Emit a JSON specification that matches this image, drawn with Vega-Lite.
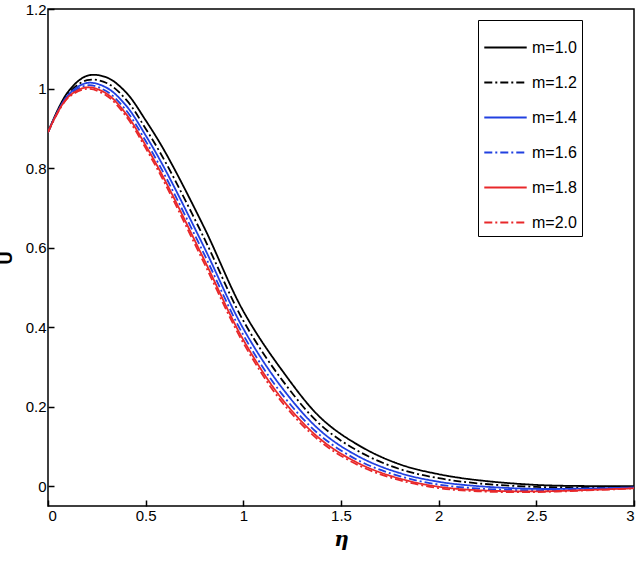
{
  "$schema": "https://vega.github.io/schema/vega-lite/v6.json",
  "autosize": {"type": "none"},
  "padding": {"left": 48, "top": 9, "right": 6, "bottom": 60},
  "width": 586,
  "height": 497,
  "background": "white",
  "config": {
    "view": {"stroke": "black", "strokeWidth": 1.5},
    "font": "Liberation Sans",
    "axis": {
      "grid": false,
      "domain": false,
      "tickSize": -6,
      "tickColor": "black",
      "tickWidth": 1.5,
      "labelFontSize": 15,
      "labelColor": "black",
      "labelFont": "Liberation Sans",
      "titleColor": "black",
      "format": "~g"
    }
  },
  "data": {
    "values": [
      {"eta":0,"U":0.89,"m":"m=1.0"},{"eta":0.1,"U":0.99,"m":"m=1.0"},{"eta":0.2,"U":1.032,"m":"m=1.0"},{"eta":0.3,"U":1.028,"m":"m=1.0"},{"eta":0.4,"U":0.99,"m":"m=1.0"},{"eta":0.5,"U":0.92,"m":"m=1.0"},{"eta":0.6,"U":0.84,"m":"m=1.0"},{"eta":0.8,"U":0.65,"m":"m=1.0"},{"eta":1.0,"U":0.44,"m":"m=1.0"},{"eta":1.2,"U":0.29,"m":"m=1.0"},{"eta":1.4,"U":0.17,"m":"m=1.0"},{"eta":1.6,"U":0.1,"m":"m=1.0"},{"eta":1.8,"U":0.055,"m":"m=1.0"},{"eta":2.0,"U":0.03,"m":"m=1.0"},{"eta":2.2,"U":0.015,"m":"m=1.0"},{"eta":2.5,"U":0.003,"m":"m=1.0"},{"eta":2.8,"U":0.0,"m":"m=1.0"},{"eta":3.0,"U":0.0,"m":"m=1.0"},
      {"eta":0,"U":0.89,"m":"m=1.2"},{"eta":0.1,"U":0.985,"m":"m=1.2"},{"eta":0.2,"U":1.021,"m":"m=1.2"},{"eta":0.3,"U":1.014,"m":"m=1.2"},{"eta":0.4,"U":0.972,"m":"m=1.2"},{"eta":0.5,"U":0.899,"m":"m=1.2"},{"eta":0.6,"U":0.816,"m":"m=1.2"},{"eta":0.8,"U":0.623,"m":"m=1.2"},{"eta":1.0,"U":0.416,"m":"m=1.2"},{"eta":1.2,"U":0.266,"m":"m=1.2"},{"eta":1.4,"U":0.152,"m":"m=1.2"},{"eta":1.6,"U":0.085,"m":"m=1.2"},{"eta":1.8,"U":0.043,"m":"m=1.2"},{"eta":2.0,"U":0.02,"m":"m=1.2"},{"eta":2.2,"U":0.007,"m":"m=1.2"},{"eta":2.5,"U":-0.002,"m":"m=1.2"},{"eta":2.8,"U":-0.003,"m":"m=1.2"},{"eta":3.0,"U":-0.002,"m":"m=1.2"},
      {"eta":0,"U":0.89,"m":"m=1.4"},{"eta":0.1,"U":0.982,"m":"m=1.4"},{"eta":0.2,"U":1.014,"m":"m=1.4"},{"eta":0.3,"U":1.002,"m":"m=1.4"},{"eta":0.4,"U":0.957,"m":"m=1.4"},{"eta":0.5,"U":0.882,"m":"m=1.4"},{"eta":0.6,"U":0.796,"m":"m=1.4"},{"eta":0.8,"U":0.6,"m":"m=1.4"},{"eta":1.0,"U":0.396,"m":"m=1.4"},{"eta":1.2,"U":0.246,"m":"m=1.4"},{"eta":1.4,"U":0.137,"m":"m=1.4"},{"eta":1.6,"U":0.072,"m":"m=1.4"},{"eta":1.8,"U":0.033,"m":"m=1.4"},{"eta":2.0,"U":0.011,"m":"m=1.4"},{"eta":2.2,"U":0.0,"m":"m=1.4"},{"eta":2.5,"U":-0.007,"m":"m=1.4"},{"eta":2.8,"U":-0.0055,"m":"m=1.4"},{"eta":3.0,"U":-0.0033,"m":"m=1.4"},
      {"eta":0,"U":0.89,"m":"m=1.6"},{"eta":0.1,"U":0.979,"m":"m=1.6"},{"eta":0.2,"U":1.008,"m":"m=1.6"},{"eta":0.3,"U":0.993,"m":"m=1.6"},{"eta":0.4,"U":0.945,"m":"m=1.6"},{"eta":0.5,"U":0.868,"m":"m=1.6"},{"eta":0.6,"U":0.78,"m":"m=1.6"},{"eta":0.8,"U":0.583,"m":"m=1.6"},{"eta":1.0,"U":0.38,"m":"m=1.6"},{"eta":1.2,"U":0.23,"m":"m=1.6"},{"eta":1.4,"U":0.125,"m":"m=1.6"},{"eta":1.6,"U":0.062,"m":"m=1.6"},{"eta":1.8,"U":0.025,"m":"m=1.6"},{"eta":2.0,"U":0.004,"m":"m=1.6"},{"eta":2.2,"U":-0.006,"m":"m=1.6"},{"eta":2.5,"U":-0.0105,"m":"m=1.6"},{"eta":2.8,"U":-0.0075,"m":"m=1.6"},{"eta":3.0,"U":-0.0045,"m":"m=1.6"},
      {"eta":0,"U":0.89,"m":"m=1.8"},{"eta":0.1,"U":0.977,"m":"m=1.8"},{"eta":0.2,"U":1.003,"m":"m=1.8"},{"eta":0.3,"U":0.987,"m":"m=1.8"},{"eta":0.4,"U":0.936,"m":"m=1.8"},{"eta":0.5,"U":0.857,"m":"m=1.8"},{"eta":0.6,"U":0.768,"m":"m=1.8"},{"eta":0.8,"U":0.569,"m":"m=1.8"},{"eta":1.0,"U":0.368,"m":"m=1.8"},{"eta":1.2,"U":0.218,"m":"m=1.8"},{"eta":1.4,"U":0.116,"m":"m=1.8"},{"eta":1.6,"U":0.055,"m":"m=1.8"},{"eta":1.8,"U":0.019,"m":"m=1.8"},{"eta":2.0,"U":-0.0015,"m":"m=1.8"},{"eta":2.2,"U":-0.0102,"m":"m=1.8"},{"eta":2.5,"U":-0.0132,"m":"m=1.8"},{"eta":2.8,"U":-0.009,"m":"m=1.8"},{"eta":3.0,"U":-0.0054,"m":"m=1.8"},
      {"eta":0,"U":0.89,"m":"m=2.0"},{"eta":0.1,"U":0.975,"m":"m=2.0"},{"eta":0.2,"U":0.999,"m":"m=2.0"},{"eta":0.3,"U":0.982,"m":"m=2.0"},{"eta":0.4,"U":0.93,"m":"m=2.0"},{"eta":0.5,"U":0.85,"m":"m=2.0"},{"eta":0.6,"U":0.76,"m":"m=2.0"},{"eta":0.8,"U":0.56,"m":"m=2.0"},{"eta":1.0,"U":0.36,"m":"m=2.0"},{"eta":1.2,"U":0.21,"m":"m=2.0"},{"eta":1.4,"U":0.11,"m":"m=2.0"},{"eta":1.6,"U":0.05,"m":"m=2.0"},{"eta":1.8,"U":0.015,"m":"m=2.0"},{"eta":2.0,"U":-0.005,"m":"m=2.0"},{"eta":2.2,"U":-0.013,"m":"m=2.0"},{"eta":2.5,"U":-0.015,"m":"m=2.0"},{"eta":2.8,"U":-0.01,"m":"m=2.0"},{"eta":3.0,"U":-0.006,"m":"m=2.0"}
    ]
  },
  "mark": {"type": "line", "interpolate": "catmull-rom", "strokeWidth": 1.8, "clip": true},
  "encoding": {
    "x": {
      "field": "eta", "type": "quantitative",
      "scale": {"domain": [0, 3], "nice": false},
      "axis": {"values": [0, 0.5, 1, 1.5, 2, 2.5, 3], "title": "η", "titleFont": "DejaVu Serif", "titleFontStyle": "italic", "titleFontWeight": "bold", "titleFontSize": 20, "titlePadding": 6, "labelPadding": 8}
    },
    "y": {
      "field": "U", "type": "quantitative",
      "scale": {"domain": [-0.05, 1.2], "nice": false, "zero": false},
      "axis": {"values": [0, 0.2, 0.4, 0.6, 0.8, 1, 1.2], "title": "U", "titleFontSize": 18, "titleFontWeight": "bold", "titlePadding": 10, "labelPadding": 8}
    },
    "color": {
      "field": "m", "type": "nominal",
      "scale": {"domain": ["m=1.0","m=1.2","m=1.4","m=1.6","m=1.8","m=2.0"], "range": ["black","black","#2140e0","#2140e0","#e8282a","#e8282a"]},
      "legend": {
        "orient": "none", "legendX": 430, "legendY": 11, "title": null,
        "symbolType": "stroke", "symbolSize": 1800, "symbolStrokeWidth": 2,
        "labelFontSize": 16, "labelColor": "black", "rowPadding": 4,
        "strokeColor": "black", "fillColor": "white", "padding": 5
      }
    },
    "strokeDash": {
      "field": "m", "type": "nominal",
      "scale": {"domain": ["m=1.0","m=1.2","m=1.4","m=1.6","m=1.8","m=2.0"], "range": [[1,0],[8,3,2,3],[1,0],[8,3,2,3],[1,0],[8,3,2,3]]},
      "legend": null
    }
  }
}
